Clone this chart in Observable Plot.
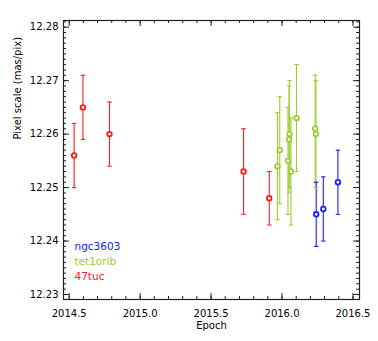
<!DOCTYPE html>
<html><head><meta charset="utf-8">
<script src="https://cdn.jsdelivr.net/npm/d3@7"></script>
<script src="https://cdn.jsdelivr.net/npm/@observablehq/plot@0.6"></script>
<style>body{margin:0;background:#fff} svg{display:block}</style>
</head><body><div id="chart"></div>
<script>
// Data
const seriesNames = ["ngc3603", "tet1orib", "47tuc"];
const seriesColors = ["#1a1aff", "#9acd32", "#ff1a1a"];

const ngcEpoch = [2016.241, 2016.291, 2016.394];
const ngcValue = [12.245, 12.246, 12.251];
const ngcError = [0.006, 0.006, 0.006];

const tetEpoch = [2015.968, 2015.984, 2016.042, 2016.049, 2016.053, 2016.063, 2016.102, 2016.234, 2016.239];
const tetValue = [12.254, 12.257, 12.255, 12.259, 12.260, 12.253, 12.263, 12.261, 12.260];
const tetError = [0.010, 0.010, 0.010, 0.010, 0.010, 0.010, 0.010, 0.010, 0.010];

const tucEpoch = [2014.535, 2014.597, 2014.784, 2015.729, 2015.910];
const tucValue = [12.256, 12.265, 12.260, 12.253, 12.248];
const tucError = [0.006, 0.006, 0.006, 0.008, 0.005];

const xMajorTicks = [2014.5, 2015.0, 2015.5, 2016.0, 2016.5];
const yMajorTicks = [12.23, 12.24, 12.25, 12.26, 12.27, 12.28];
const xLabel = "Epoch";
const yLabel = "Pixel scale (mas/pix)";

// Build tables
function rows(name, color, ep, val, err) {
  return ep.map((e, i) => ({name, color, epoch: e, value: val[i], err: err[i]}));
}
const data = [
  ...rows(seriesNames[2], seriesColors[2], tucEpoch, tucValue, tucError),
  ...rows(seriesNames[1], seriesColors[1], tetEpoch, tetValue, tetError),
  ...rows(seriesNames[0], seriesColors[0], ngcEpoch, ngcValue, ngcError)
];
const caps = data.flatMap(d => [
  {color: d.color, epoch: d.epoch, y: d.value + d.err},
  {color: d.color, epoch: d.epoch, y: d.value - d.err}
]);
const xMinorTicks = d3.range(20145, 20166).map(d => d / 10);
const yMinorTicks = d3.range(12229, 12282).map(d => d / 1000).filter(v => v >= 12.2291 && v <= 12.2812);

const capSymbol = {
  draw(ctx, size) {
    const w = Math.sqrt(size / Math.PI);
    ctx.moveTo(-w, 0); ctx.lineTo(w, 0);
  }
};

const W = 378, H = 341, mL = 63, mR = 19, mT = 20, mB = 42;
const pw = W - mL - mR, ph = H - mT - mB;
const majLen = 6, minLen = 3;
const tickStroke = "#222";

const legendMarks = seriesNames.map((name, i) =>
  Plot.text([name], {frameAnchor: "bottom-left", textAnchor: "start", lineAnchor: "bottom",
    dx: 11, dy: -49.5 + 15 * i, fill: seriesColors[i], fontSize: 10.5})
);

const plot = Plot.plot({
  width: W, height: H,
  marginLeft: mL, marginRight: mR, marginTop: mT, marginBottom: mB,
  style: {fontFamily: "DejaVu Sans, sans-serif", fontSize: "10px", background: "#fff", color: "#000"},
  x: {domain: [2014.46, 2016.546], label: null},
  y: {domain: [12.22907, 12.28125], label: null},
  marks: [
    // inward ticks on all four sides
    Plot.tickX(xMajorTicks, {x: d => d, insetTop: ph - majLen, stroke: tickStroke}),
    Plot.tickX(xMinorTicks, {x: d => d, insetTop: ph - minLen, stroke: tickStroke}),
    Plot.tickX(xMajorTicks, {x: d => d, insetBottom: ph - majLen, stroke: tickStroke}),
    Plot.tickX(xMinorTicks, {x: d => d, insetBottom: ph - minLen, stroke: tickStroke}),
    Plot.tickY(yMajorTicks, {y: d => d, insetRight: pw - majLen, stroke: tickStroke}),
    Plot.tickY(yMinorTicks, {y: d => d, insetRight: pw - minLen, stroke: tickStroke}),
    Plot.tickY(yMajorTicks, {y: d => d, insetLeft: pw - majLen, stroke: tickStroke}),
    Plot.tickY(yMinorTicks, {y: d => d, insetLeft: pw - minLen, stroke: tickStroke}),
    Plot.frame({stroke: "#222", strokeWidth: 1.2}),
    Plot.axisX({ticks: xMajorTicks, tickFormat: d3.format(".1f"), tickSize: 0, tickPadding: 10, fontSize: 10}),
    Plot.axisY({ticks: yMajorTicks, tickFormat: d3.format(".2f"), tickSize: 0, tickPadding: 5, fontSize: 10}),
    // error bars
    Plot.ruleX(data, {x: "epoch", y1: d => d.value - d.err, y2: d => d.value + d.err, stroke: "color", strokeWidth: 1.1}),
    Plot.dot(caps, {x: "epoch", y: "y", r: 2.2, symbol: capSymbol, stroke: "color", strokeWidth: 1.1, fill: "none"}),
    Plot.dot(data, {x: "epoch", y: "value", r: 2.3, symbol: "circle", stroke: "color", strokeWidth: 1.8, fill: "#fff"}),
    // axis titles
    Plot.text([xLabel], {frameAnchor: "bottom", lineAnchor: "bottom", dy: 29, fontSize: 10, fill: "#000"}),
    Plot.text([yLabel], {frameAnchor: "left", rotate: -90, dx: -46, dy: -20.5, fontSize: 10, fill: "#000"}),
    // legend
    ...legendMarks
  ]
});
document.getElementById("chart").appendChild(plot);
</script>
</body></html>
